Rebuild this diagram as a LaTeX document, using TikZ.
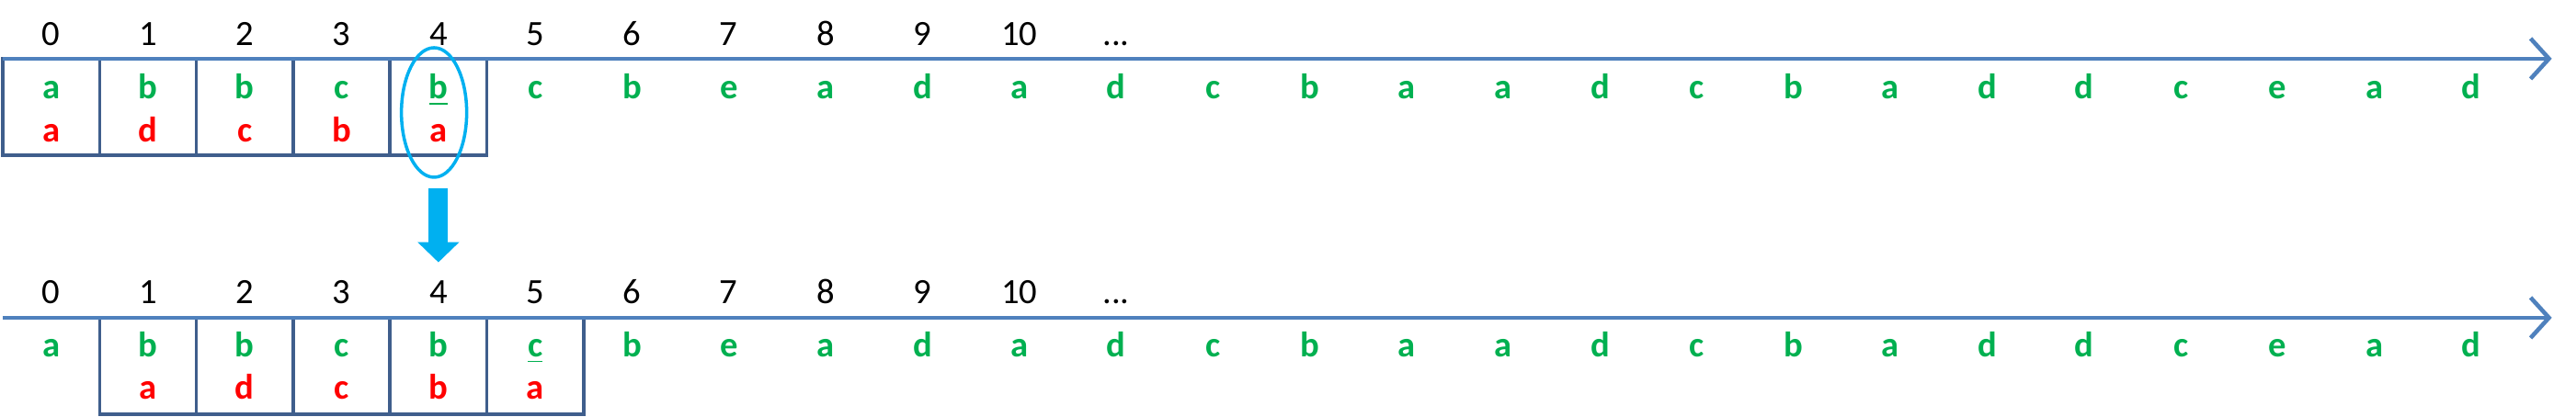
\documentclass[tikz,border=0pt]{standalone}
\usepackage{fontspec}
\setmainfont{Carlito}
\usetikzlibrary{arrows.meta,shapes.geometric}
\definecolor{seqgreen}{HTML}{00B050}
\definecolor{seqred}{HTML}{FF0000}
\definecolor{axisblue}{HTML}{4F81BD}
\definecolor{boxblue}{HTML}{3F5E8C}
\definecolor{selblue}{HTML}{00B0F0}
\tikzset{
  num/.style={anchor=base, inner sep=0pt, font=\fontsize{11}{13}\selectfont},
  sym/.style={anchor=base, inner sep=0pt, text=seqgreen, font=\fontsize{11}{13}\selectfont\bfseries},
  prev/.style={sym, text=seqred},
  cell/.style={draw=boxblue, line width=1pt},
  timeline/.style={draw=axisblue, line width=1.3pt, -{Straight Barb[length=2mm,width=4.4mm]}},
}
\begin{document}
\begin{tikzpicture}[x=1.053cm,y=1.053cm]
\useasboundingbox (-0.0285,0) rectangle (26.58,4.311);
%\draw[help lines,step=1] (0,0) grid (27,4);
\begin{scope}[shift={(0,3.704)}]
\draw [cell] (0,0) rectangle (1,-1.0);
\draw [cell] (1,0) rectangle (2,-1.0);
\draw [cell] (2,0) rectangle (3,-1.0);
\draw [cell] (3,0) rectangle (4,-1.0);
\draw [cell] (4,0) rectangle (5,-1.0);
\coordinate (ts) at (0,0);
\coordinate (te) at (26.33,0);
\draw [timeline] (ts) -- (te);
\node [num] (t0) at (0.5,0.135) {0};
\node [num] (t1) at (1.5,0.135) {1};
\node [num] (t2) at (2.5,0.135) {2};
\node [num] (t3) at (3.5,0.135) {3};
\node [num] (t4) at (4.5,0.135) {4};
\node [num] (t5) at (5.5,0.135) {5};
\node [num] (t6) at (6.5,0.135) {6};
\node [num] (t7) at (7.5,0.135) {7};
\node [num] (t8) at (8.5,0.135) {8};
\node [num] (t9) at (9.5,0.135) {9};
\node [num] (t10) at (10.5,0.135) {10};
\node [num] (tdots) at (11.5,0.135) {...};
\node [sym] (ta0) at (0.5,-0.415) {a};
\node [sym] (ta1) at (1.5,-0.415) {b};
\node [sym] (ta2) at (2.5,-0.415) {b};
\node [sym] (ta3) at (3.5,-0.415) {c};
\node [sym] (ta4) at (4.5,-0.415) {\underline{b}};
\node [sym] (ta5) at (5.5,-0.415) {c};
\node [sym] (ta6) at (6.5,-0.415) {b};
\node [sym] (ta7) at (7.5,-0.415) {e};
\node [sym] (ta8) at (8.5,-0.415) {a};
\node [sym] (ta9) at (9.5,-0.415) {d};
\node [sym] (ta10) at (10.5,-0.415) {a};
\node [sym] (ta11) at (11.5,-0.415) {d};
\node [sym] (ta12) at (12.5,-0.415) {c};
\node [sym] (ta13) at (13.5,-0.415) {b};
\node [sym] (ta14) at (14.5,-0.415) {a};
\node [sym] (ta15) at (15.5,-0.415) {a};
\node [sym] (ta16) at (16.5,-0.415) {d};
\node [sym] (ta17) at (17.5,-0.415) {c};
\node [sym] (ta18) at (18.5,-0.415) {b};
\node [sym] (ta19) at (19.5,-0.415) {a};
\node [sym] (ta20) at (20.5,-0.415) {d};
\node [sym] (ta21) at (21.5,-0.415) {d};
\node [sym] (ta22) at (22.5,-0.415) {c};
\node [sym] (ta23) at (23.5,-0.415) {e};
\node [sym] (ta24) at (24.5,-0.415) {a};
\node [sym] (ta25) at (25.5,-0.415) {d};
\node [prev] (tp0) at (0.5,-0.86) {a};
\node [prev] (tp1) at (1.5,-0.86) {d};
\node [prev] (tp2) at (2.5,-0.86) {c};
\node [prev] (tp3) at (3.5,-0.86) {b};
\node [prev] (tp4) at (4.5,-0.86) {a};
\node [draw=selblue, line width=1pt, ellipse, inner sep=0pt, minimum width=0.71cm, minimum height=1.41cm] (sel) at (4.455,-0.556) {};
\end{scope}

\begin{scope}[shift={(0,1.026)}]
\draw [cell] (1,0) rectangle (2,-1.0);
\draw [cell] (2,0) rectangle (3,-1.0);
\draw [cell] (3,0) rectangle (4,-1.0);
\draw [cell] (4,0) rectangle (5,-1.0);
\draw [cell] (5,0) rectangle (6,-1.0);
\coordinate (bs) at (0,0);
\coordinate (be) at (26.33,0);
\draw [timeline] (bs) -- (be);
\node [num] (b0) at (0.5,0.15) {0};
\node [num] (b1) at (1.5,0.15) {1};
\node [num] (b2) at (2.5,0.15) {2};
\node [num] (b3) at (3.5,0.15) {3};
\node [num] (b4) at (4.5,0.15) {4};
\node [num] (b5) at (5.5,0.15) {5};
\node [num] (b6) at (6.5,0.15) {6};
\node [num] (b7) at (7.5,0.15) {7};
\node [num] (b8) at (8.5,0.15) {8};
\node [num] (b9) at (9.5,0.15) {9};
\node [num] (b10) at (10.5,0.15) {10};
\node [num] (bdots) at (11.5,0.15) {...};
\node [sym] (ba0) at (0.5,-0.40) {a};
\node [sym] (ba1) at (1.5,-0.40) {b};
\node [sym] (ba2) at (2.5,-0.40) {b};
\node [sym] (ba3) at (3.5,-0.40) {c};
\node [sym] (ba4) at (4.5,-0.40) {b};
\node [sym] (ba5) at (5.5,-0.40) {\underline{c}};
\node [sym] (ba6) at (6.5,-0.40) {b};
\node [sym] (ba7) at (7.5,-0.40) {e};
\node [sym] (ba8) at (8.5,-0.40) {a};
\node [sym] (ba9) at (9.5,-0.40) {d};
\node [sym] (ba10) at (10.5,-0.40) {a};
\node [sym] (ba11) at (11.5,-0.40) {d};
\node [sym] (ba12) at (12.5,-0.40) {c};
\node [sym] (ba13) at (13.5,-0.40) {b};
\node [sym] (ba14) at (14.5,-0.40) {a};
\node [sym] (ba15) at (15.5,-0.40) {a};
\node [sym] (ba16) at (16.5,-0.40) {d};
\node [sym] (ba17) at (17.5,-0.40) {c};
\node [sym] (ba18) at (18.5,-0.40) {b};
\node [sym] (ba19) at (19.5,-0.40) {a};
\node [sym] (ba20) at (20.5,-0.40) {d};
\node [sym] (ba21) at (21.5,-0.40) {d};
\node [sym] (ba22) at (22.5,-0.40) {c};
\node [sym] (ba23) at (23.5,-0.40) {e};
\node [sym] (ba24) at (24.5,-0.40) {a};
\node [sym] (ba25) at (25.5,-0.40) {d};
\node [prev] (bp1) at (1.5,-0.845) {a};
\node [prev] (bp2) at (2.5,-0.845) {d};
\node [prev] (bp3) at (3.5,-0.845) {c};
\node [prev] (bp4) at (4.5,-0.845) {b};
\node [prev] (bp5) at (5.5,-0.845) {a};
\end{scope}

% shift of the window
\draw [selblue, line width=0.21cm, -{Triangle[width=0.44cm,length=0.22cm]}, shorten <=0.1cm, shorten >=0.19cm] (sel.south -| b4) -- (b4.north);
\end{tikzpicture}
\end{document}
